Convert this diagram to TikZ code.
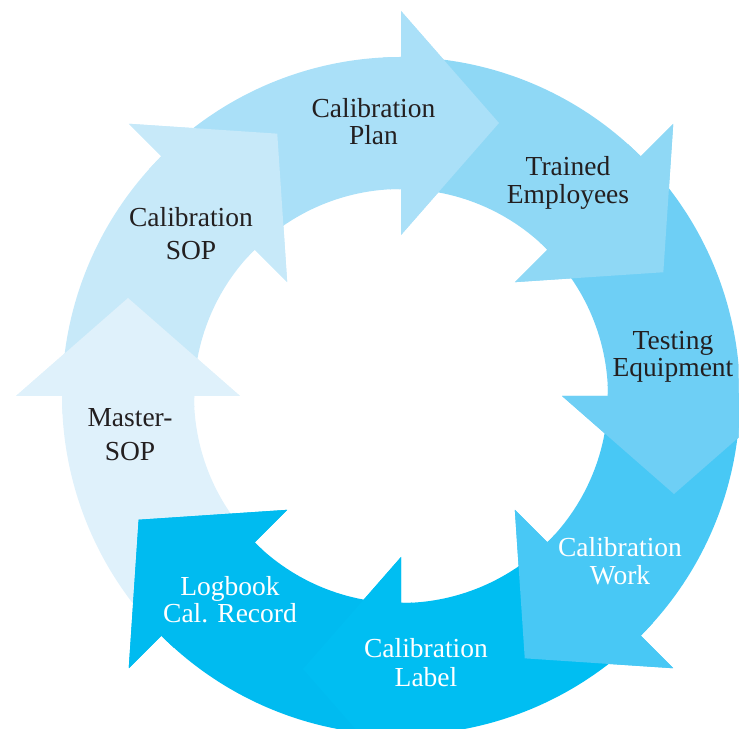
\documentclass[tikz,border=0pt]{standalone}
\usepackage{fontspec}
\setmainfont{Liberation Serif}
\usetikzlibrary{calc}
\definecolor{cMaster}{HTML}{DFF1FB}
\definecolor{cSOP}{HTML}{C7E9F9}
\definecolor{cPlan}{HTML}{AAE0F8}
\definecolor{cTrain}{HTML}{8FD8F5}
\definecolor{cTest}{HTML}{6ECFF5}
\definecolor{cWork}{HTML}{48C8F5}
\definecolor{cLabel}{HTML}{00BEF2}
\definecolor{cLog}{HTML}{00BBF0}
\definecolor{txtdark}{HTML}{231F20}
\newcommand\mylbl[3][28pt]{\vtop{\baselineskip=#1\lineskiplimit=-20pt\halign{\hfil##\hfil\cr #2\cr #3\cr}}}
\begin{document}
\begin{tikzpicture}[x=1pt,y=1pt,
  lbl/.style={anchor=base,inner sep=0pt,font=\fontsize{27.5}{28}\selectfont},
  darktxt/.style={lbl,text=txtdark},
  lighttxt/.style={lbl,text=white}]
\useasboundingbox (0,0) rectangle (749,728);
\begin{scope}
\clip (0,0) rectangle (738.5,728);
\coordinate (C) at (401,332);
% full arrows: band + head
\foreach \a/\col [evaluate=\a as \b using \a+45.5, evaluate=\a as \t using \a-90] in
  {180/cMaster,135/cSOP,90/cPlan,45/cTrain,0/cTest,-45/cWork,-90/cLabel,-135/cLog} {
  \fill[\col] ($(C)+(\b:339)$) arc[start angle=\b, end angle=\a, radius=339]
    -- ($(C)+(\a:385)$) -- ($(C)+(\a:273)+(\t:98)$) -- ($(C)+(\a:161)$)
    -- ($(C)+(\a:207)$) arc[start angle=\a, end angle=\b, radius=207] -- cycle;
}
% heads on top of the following band
\foreach \a/\col [evaluate=\a as \b using \a+3, evaluate=\a as \t using \a-90] in
  {180/cMaster,135/cSOP,90/cPlan,45/cTrain,0/cTest,-45/cWork,-90/cLabel,-135/cLog} {
  \fill[\col] ($(C)+(\b:339)$) arc[start angle=\b, end angle=\a, radius=339]
    -- ($(C)+(\a:385)$) -- ($(C)+(\a:273)+(\t:98)$) -- ($(C)+(\a:161)$)
    -- ($(C)+(\a:207)$) arc[start angle=\a, end angle=\b, radius=207] -- cycle;
}
\end{scope}
\node[darktxt] (plan) at (373.5,610) {\mylbl[27pt]{Calibration}{Plan}};
\node[darktxt] (trained) at (568,552) {\mylbl{Trained}{Employees}};
\node[darktxt] (testing) at (673,378) {\mylbl[27pt]{Testing}{Equipment}};
\node[lighttxt] (work) at (620,171) {\mylbl{Calibration}{Work}};
\node[lighttxt] (label) at (426,71) {\mylbl[29pt]{Calibration}{Label}};
\node[lighttxt] (logbook) at (230,132) {\mylbl[27pt]{Logbook}{Cal. Record}};
\node[darktxt] (master) at (130,301) {\mylbl[34pt]{Master-}{SOP}};
\node[darktxt] (sop) at (191,501) {\mylbl[33pt]{Calibration}{SOP}};
\end{tikzpicture}
\end{document}
